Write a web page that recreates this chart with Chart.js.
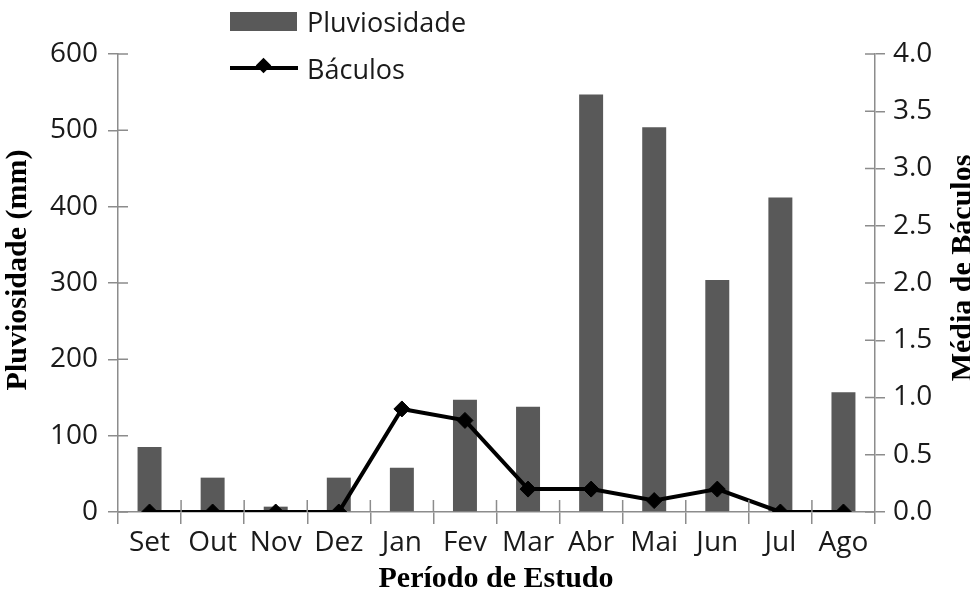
<!DOCTYPE html>
<html>
<head>
<meta charset="utf-8">
<script src="https://cdn.jsdelivr.net/npm/chart.js@4.4.1/dist/chart.umd.min.js"></script>
<style>
  html, body { margin: 0; padding: 0; background: #fff; }
  #wrap { position: relative; width: 970px; height: 590px; overflow: hidden; }
  #chart { position: absolute; left: 0; top: 0; }
  .legend-row { position: absolute; left: 230px; height: 30px; display: flex; align-items: center;
    font-family: "Open Sans", sans-serif; font-size: 27px; color: #1a1a1a; }
  .swatch-bar { width: 67px; height: 19px; background: #595959; margin-right: 10px; }
  .swatch-line { position: relative; width: 68px; height: 4px; background: #000; margin-right: 9px; }
  .swatch-line span { position: absolute; left: 28px; top: -6px; width: 11px; height: 11px;
    background: #000; transform: rotate(45deg); }
</style>
</head>
<body>
<div id="wrap">
  <canvas id="chart" width="970" height="590"></canvas>
  <div class="legend-row" style="top:6px"><div class="swatch-bar"></div><span id="lg0"></span></div>
  <div class="legend-row" style="top:53px"><div class="swatch-line"><span></span></div><span id="lg1"></span></div>
</div>
<script>
// Monthly rainfall and mean number of croziers
const months = ["Set", "Out", "Nov", "Dez", "Jan", "Fev", "Mar", "Abr", "Mai", "Jun", "Jul", "Ago"];
const rainfall = [85, 45, 7, 45, 58, 147, 138, 547, 504, 304, 412, 157];
const baculos = [0, 0, 0, 0, 0.9, 0.8, 0.2, 0.2, 0.1, 0.2, 0, 0];
const rainTicks = [0, 100, 200, 300, 400, 500, 600];
const baculoTicks = [0, 0.5, 1, 1.5, 2, 2.5, 3, 3.5, 4];

const seriesNames = ["Pluviosidade", "Báculos"];
const titleLeft = "Pluviosidade (mm)";
const titleRight = "Média de Báculos";
const titleBottom = "Período de Estudo";

const axisColor = "#8c8c8c";
const tickFont = { family: "'Open Sans', sans-serif", size: 28 };

document.getElementById("lg0").textContent = seriesNames[0];
document.getElementById("lg1").textContent = seriesNames[1];

// ticks that also cross into the plot area, like the original
const innerTicks = {
  id: "innerTicks",
  afterDraw(chart) {
    const ctx = chart.ctx;
    const area = chart.chartArea;
    const x = chart.scales.x, y = chart.scales.y, y1 = chart.scales.y1;
    ctx.save();
    ctx.strokeStyle = axisColor;
    ctx.lineWidth = 1.5;
    ctx.beginPath();
    y.ticks.forEach((t, i) => {
      const py = y.getPixelForTick(i);
      ctx.moveTo(area.left, py);
      ctx.lineTo(area.left + 10, py);
    });
    y1.ticks.forEach((t, i) => {
      const py = y1.getPixelForTick(i);
      ctx.moveTo(area.right, py);
      ctx.lineTo(area.right - 10, py);
    });
    for (let i = 1; i < months.length; i++) {
      const px = (x.getPixelForTick(i - 1) + x.getPixelForTick(i)) / 2;
      ctx.moveTo(px, area.bottom);
      ctx.lineTo(px, area.bottom - 12);
    }
    ctx.stroke();
    ctx.restore();
  }
};

const axisTitles = {
  id: "axisTitles",
  afterDraw(chart) {
    const ctx = chart.ctx;
    ctx.save();
    ctx.fillStyle = "#000";
    ctx.font = "bold 30px 'Liberation Serif', serif";
    ctx.textAlign = "center";
    ctx.textBaseline = "middle";
    ctx.fillText(titleBottom, 496, 579);
    ctx.save();
    ctx.translate(18, 270);
    ctx.rotate(-Math.PI / 2);
    ctx.fillText(titleLeft, 0, 0);
    ctx.restore();
    ctx.save();
    ctx.translate(963, 268);
    ctx.rotate(-Math.PI / 2);
    ctx.fillText(titleRight, 0, 0);
    ctx.restore();
    ctx.restore();
  }
};

new Chart(document.getElementById("chart").getContext("2d"), {
  data: {
    labels: months,
    datasets: [
      {
        type: "line",
        label: seriesNames[1],
        data: baculos,
        yAxisID: "y1",
        borderColor: "#000",
        backgroundColor: "#000",
        borderWidth: 4,
        pointStyle: "rectRot",
        pointRadius: 8,
        pointBorderWidth: 1,
        tension: 0,
        order: 0,
      },
      {
        type: "bar",
        label: seriesNames[0],
        data: rainfall,
        yAxisID: "y",
        backgroundColor: "#595959",
        borderWidth: 0,
        barPercentage: 0.38,
        categoryPercentage: 1,
        order: 1,
      },
    ],
  },
  options: {
    responsive: false,
    animation: false,
    devicePixelRatio: 1,
    layout: { padding: { top: 54, left: 0, right: 0, bottom: 0 } },
    plugins: {
      legend: { display: false },
      tooltip: { enabled: false },
    },
    scales: {
      x: {
        grid: { drawOnChartArea: false, tickLength: 12, color: axisColor, lineWidth: 1.5, offset: true },
        border: { color: axisColor, width: 1.5 },
        ticks: { font: tickFont, color: "#1a1a1a", padding: 2, maxRotation: 0, autoSkip: false },
        afterFit(scale) { scale.height = 78; },
      },
      y: {
        position: "left",
        min: 0,
        max: 600,
        afterBuildTicks(scale) { scale.ticks = rainTicks.map(v => ({ value: v })); },
        grid: { drawOnChartArea: false, tickLength: 10, color: axisColor, lineWidth: 1.5 },
        border: { color: axisColor, width: 1.5 },
        ticks: { font: tickFont, color: "#1a1a1a", padding: 10 },
        afterFit(scale) { scale.width = 118; },
      },
      y1: {
        position: "right",
        min: 0,
        max: 4,
        afterBuildTicks(scale) { scale.ticks = baculoTicks.map(v => ({ value: v })); },
        grid: { drawOnChartArea: false, tickLength: 10, color: axisColor, lineWidth: 1.5 },
        border: { color: axisColor, width: 1.5 },
        ticks: { font: tickFont, color: "#1a1a1a", padding: 8, callback: v => v.toFixed(1) },
        afterFit(scale) { scale.width = 95; },
      },
    },
  },
  plugins: [innerTicks, axisTitles],
});
</script>
</body>
</html>
